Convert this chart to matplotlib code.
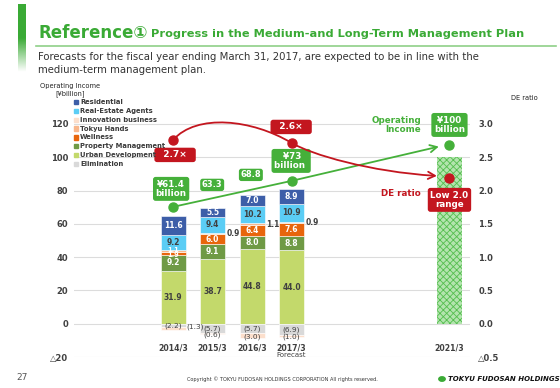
import numpy as np
import matplotlib.pyplot as plt
from matplotlib.path import Path
from matplotlib.patches import FancyArrowPatch, Rectangle
from matplotlib.lines import Line2D
from matplotlib.colors import LinearSegmentedColormap

plt.rcParams['font.family'] = ['DejaVu Sans', 'Noto Sans CJK JP']
plt.rcParams['hatch.linewidth'] = 0.6

# --- data (¥billion) ---
years = [2014, 2015, 2016, 2017]
year_labels = ['2014/3', '2015/3', '2016/3', '2017/3']
urban_dev = [31.9, 38.7, 44.8, 44.0]
property_mgmt = [9.2, 9.1, 8.0, 8.8]
wellness = [1.9, 6.0, 6.4, 7.6]
tokyu_hands = [1.1, 0.9, 1.1, 0.9]
real_estate = [9.2, 9.4, 10.2, 10.9]
residential = [11.6, 5.5, 7.0, 8.9]
elimination = [-2.2, -5.7, -5.7, -6.9]
innovation = [-1.3, -0.6, -3.0, -1.0]
op_income_labels = ['¥61.4\nbillion', '63.3', '68.8', '¥73\nbillion']

plan_year = 2021
plan_label = '2021/3'
plan_income = 100

# trend markers as drawn over the bars
trend_years = [2014, 2017, 2021]
op_trend = [70.2, 85.8, 107.4]
de_ratio = [2.76, 2.715, 2.19]
de_labels = ['2.7×', '2.6×']

left_ticks = [120, 100, 80, 60, 40, 20, 0, -20]
left_labels = ['120', '100', '80', '60', '40', '20', '0', '△20']
right_ticks = [3.0, 2.5, 2.0, 1.5, 1.0, 0.5, 0.0, -0.5]
right_labels = ['3.0', '2.5', '2.0', '1.5', '1.0', '0.5', '0.0', '△0.5']

legend_names = ['Residential', 'Real-Estate Agents', 'Innovation business', 'Tokyu Hands',
                'Wellness', 'Property Management', 'Urban Development', 'Elimination']
legend_colors = ['#3d5ea8', '#5bcdf5', '#fcdfcc', '#f9b78c', '#e8650c', '#6f9a45', '#c3d96b', '#d9d9d9']

GREEN = '#45b03a'
RED = '#c3161f'
DARK = '#404040'

fig = plt.figure(figsize=(5.6, 3.88), dpi=100)

def fx(x):
    return x / 560

def fy(y):
    return 1 - y / 388

# header
bax = fig.add_axes([fx(18), fy(72), fx(8), 68 / 388])
grad = np.linspace(0, 1, 100).reshape(-1, 1)
cmap = LinearSegmentedColormap.from_list('g', [(0, '#3aaa35'), (0.5, '#3aaa35'), (1, '#ffffff')])
bax.imshow(grad, cmap=cmap, aspect='auto')
bax.axis('off')

fig.text(fx(38), fy(33), 'Reference①', fontsize=12, fontweight='bold', color='#3aaa35', va='center')
fig.text(fx(151), fy(34), 'Progress in the Medium-and Long-Term Management Plan',
         fontsize=8.2, fontweight='bold', color='#3aaa35', va='center')
fig.add_artist(Line2D([fx(36), fx(556)], [fy(46), fy(46)], color='#8fd088', lw=1.2))
fig.text(fx(38), fy(57), 'Forecasts for the fiscal year ending March 31, 2017, are expected to be in line with the',
         fontsize=7.3, color='#333333', va='center')
fig.text(fx(38), fy(70), 'medium-term management plan.', fontsize=7.3, color='#333333', va='center')

# axes
ax = fig.add_axes([fx(74), fy(357), (470 - 74) / 560, (357 - 107.3) / 388])
ax.set_xlim(2011.49, 2021.52)
ax.set_ylim(-20, 130)
ax2 = ax.twinx()
ax2.set_ylim(-0.5, 3.25)
for a in (ax, ax2):
    for s in a.spines.values():
        s.set_visible(False)
ax.set_xticks([])
ax.set_yticks(left_ticks, left_labels)
ax2.set_yticks(right_ticks, right_labels)
ax.tick_params(axis='y', length=0, pad=4, labelsize=6, labelcolor=DARK)
ax2.tick_params(axis='y', length=0, pad=6, labelsize=6, labelcolor=DARK)
for t in ax.get_yticklabels() + ax2.get_yticklabels():
    t.set_fontweight('bold')
ax.grid(axis='y', color='#dcdcdc', lw=0.8)
ax.set_axisbelow(True)

w = 0.633
stack = [urban_dev, property_mgmt, wellness, tokyu_hands, real_estate, residential]
colors = ['#c3d96b', '#6f9a45', '#e8650c', '#f9b78c', '#5bcdf5', '#3d5ea8']
txt_colors = [DARK, 'white', 'white', 'white', DARK, 'white']
bottom = np.zeros(len(years))
for k, (vals, c) in enumerate(zip(stack, colors)):
    ax.bar(years, vals, w, bottom=bottom, color=c, edgecolor='white', lw=0.4, zorder=2)
    for i, v in enumerate(vals):
        yc = bottom[i] + v / 2
        size = 5.5
        if k == 3 and i > 0:
            ax.text(years[i] + w / 2 + 0.03, yc, f'{v:.1f}', fontsize=size, fontweight='bold',
                    color=DARK, ha='left', va='center', zorder=4)
            continue
        # the two thin 2014 slices get a smaller label, spread apart
        if i == 0 and k in (2, 3):
            size = 4.7
            yc += -0.9 if k == 2 else 0.9
        ax.text(years[i], yc, f'{v:.1f}', fontsize=size, fontweight='bold',
                color=txt_colors[k], ha='center', va='center', zorder=4)
    bottom += np.array(vals)

ax.bar(years, elimination, w, color='#d9d9d9', edgecolor='white', lw=0.4, zorder=2)
ax.bar(years, innovation, w, bottom=elimination, color='#fcdfcc', edgecolor='white', lw=0.4, zorder=2)
for i in range(len(years)):
    ax.text(years[i], elimination[i] / 2, f'({-elimination[i]:.1f})', fontsize=5.3,
            color=DARK, ha='center', va='center', zorder=4)
    if i == 0:
        ax.text(years[i] + w / 2 + 0.02, -2.0, f'({-innovation[i]:.1f})', fontsize=5.3,
                color=DARK, ha='left', va='center', zorder=4)
    else:
        ax.text(years[i], elimination[i] + innovation[i] / 2 - 0.6, f'({-innovation[i]:.1f})',
                fontsize=5.3, color=DARK, ha='center', va='center', zorder=4)

# 2021 plan bar (checkered)
ax.bar([plan_year], [plan_income], w, color='#b3e4ae', edgecolor='#55be4f', lw=0, hatch='xxxxx', zorder=2)

# x labels
for x, lab in zip(years + [plan_year], year_labels + [plan_label]):
    ax.text(x, -14.4, lab, fontsize=5.6, fontweight='bold', color=DARK, ha='center', va='center')
ax.text(2017, -18.6, 'Forecast', fontsize=5, color=DARK, ha='center', va='center')

# DE ratio curve (right axis)
verts = [(trend_years[0], de_ratio[0]), (2014.6, 3.16), (2016.0, 3.07), (trend_years[1], de_ratio[1]),
         (2017.5, 2.54), (2019.0, 2.28), (2020.68, 2.22)]
codes = [Path.MOVETO] + [Path.CURVE4] * 6
ax2.add_patch(FancyArrowPatch(path=Path(verts, codes), arrowstyle='->,head_length=5,head_width=2.6',
                              color=RED, lw=1.3, zorder=5))
ax2.plot(trend_years, de_ratio, 'o', color=RED, ms=6.5, zorder=6)

# operating income trend
ax.plot(trend_years[:2], op_trend[:2], color=GREEN, lw=1.3, zorder=5)
ax.add_patch(FancyArrowPatch((trend_years[1], op_trend[1]), (2020.73, 106.4),
                             arrowstyle='->,head_length=5,head_width=2.6', color=GREEN, lw=1.3,
                             shrinkA=0, shrinkB=0, zorder=5))
ax.plot(trend_years, op_trend, 'o', color=GREEN, ms=6.5, zorder=6)

def box(x, y, s, fc, size=6.5, pad=0.3):
    ax.text(x, y, s, fontsize=size, fontweight='bold', color='white', ha='center', va='center',
            linespacing=1.1, zorder=7,
            bbox=dict(boxstyle=f'round,pad={pad},rounding_size=0.3', fc=fc, ec='none'))

box(2014.05, 101.4, '  ' + de_labels[0] + '  ', RED)
box(2016.99, 118.2, '  ' + de_labels[1] + '  ', RED)
box(2013.95, 81.0, op_income_labels[0], GREEN, size=6.3)
box(2014.99, 83.4, op_income_labels[1], GREEN, size=6.0, pad=0.2)
box(2015.97, 89.4, op_income_labels[2], GREEN, size=6.0, pad=0.2)
box(2016.99, 97.8, ' ' + op_income_labels[3] + ' ', GREEN, size=6.3)
box(2021.0, 119.4, ' ¥100 \nbillion', GREEN, size=6.3)
box(2021.0, 74.4, 'Low 2.0\nrange', RED, size=6.3)
ax.text(2020.28, 119.4, 'Operating\nIncome', fontsize=6.3, fontweight='bold', color=GREEN,
        ha='right', va='center', multialignment='right', linespacing=1.0)
ax.text(2020.28, 78, 'DE ratio', fontsize=6.3, fontweight='bold', color=RED, ha='right', va='center')

# axis captions
fig.text(fx(70), fy(86), 'Operating Income', fontsize=4.8, color='#222222', ha='center', va='center')
fig.text(fx(70), fy(94), '[¥billion]', fontsize=4.8, color='#222222', ha='center', va='center')
fig.text(fx(524), fy(98), 'DE ratio', fontsize=4.8, color='#222222', ha='center', va='center')

# legend
for j, (name, c) in enumerate(zip(legend_names, legend_colors)):
    yy = 102 + j * 8.85
    fig.add_artist(Rectangle((fx(73.5), fy(yy + 2.2)), 4.4 / 560, 4.4 / 388, color=c))
    fig.text(fx(80), fy(yy), name, fontsize=4.9, fontweight='bold', color='#3a3a3a', va='center')

# footer
fig.text(fx(22), fy(377), '27', fontsize=6.5, color='#555555', ha='center', va='center')
fig.text(fx(282), fy(379), 'Copyright © TOKYU FUDOSAN HOLDINGS CORPORATION All rights reserved.',
         fontsize=3.6, color='#333333', ha='center', va='center')
fig.add_artist(plt.Circle((fx(442), fy(379)), 3.2 / 560, color='#3aaa35'))
fig.text(fx(448), fy(379), 'TOKYU FUDOSAN HOLDINGS', fontsize=5.0, fontweight='bold', style='italic',
         color='#111111', va='center')

fig.savefig('out.png', dpi=100)
